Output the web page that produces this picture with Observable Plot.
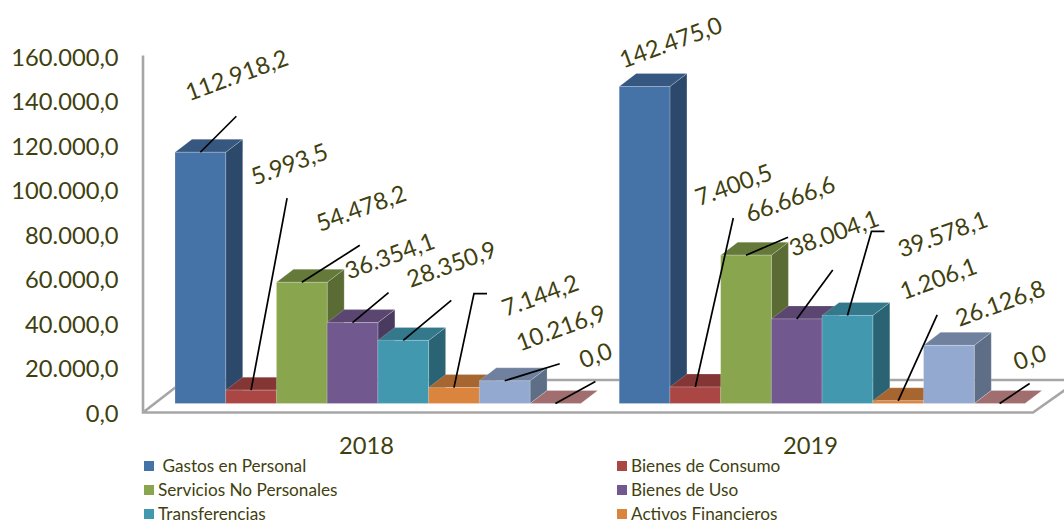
<!DOCTYPE html>
<html><head><meta charset="utf-8">
<script src="https://cdn.jsdelivr.net/npm/d3@7"></script>
<script src="https://cdn.jsdelivr.net/npm/@observablehq/plot@0.6"></script>
<style>
html,body{margin:0;padding:0;background:#fff;overflow:hidden}
#legend{position:absolute;left:144px;top:458.5px;display:grid;grid-template-columns:473px 300px;grid-auto-rows:14px;row-gap:10.2px;font:17.2px/14px Lato,sans-serif;color:#3f3f10}
#legend div{display:flex;align-items:center;white-space:pre;height:14px}
#legend i{display:inline-block;width:10px;height:10px;margin-right:4px}
</style></head><body>
<div id="chart"></div><div id="legend"></div>
<script>
const years = ["2018", "2019"];
const series = ["Gastos en Personal", "Bienes de Consumo", "Servicios No Personales", "Bienes de Uso", "Transferencias", "Activos Financieros", "Bienes Preexistentes", "Otros"];
const legendSeries = series.slice(0, 6);
const values2018 = [112918.2, 5993.5, 54478.2, 36354.1, 28350.9, 7144.2, 10216.9, 0];
const values2019 = [142475.0, 7400.5, 66666.6, 38004.1, 39578.1, 1206.1, 26126.8, 0];
const yTicks = [0, 20000, 40000, 60000, 80000, 100000, 120000, 140000, 160000];

const frontColors = ["#4573a7", "#aa4644", "#89a54e", "#71588f", "#4198af", "#db843d", "#93a9cf", "#d19392"];
const topColors = ["#36577f", "#843635", "#657a3a", "#5a4671", "#33788b", "#a7652f", "#6f819e", "#a06e6e"];
const sideColors = ["#2c486b", "#6f2d2c", "#5a6c33", "#4b3a60", "#2a6373", "#8f5628", "#5e6e87", "#8a5c5c"];

// manual data-label layout: pixel offsets from the top centre of each bar
const labelOffsets2018 = [[36, -77], [38, -226], [59, -74], [37, -66.5], [48, -76], [86, -92], [56, -53], [40, -48]];
const labelOffsets2019 = [[26, -44], [38, -202], [44, -56], [37, -85.5], [95, -81], [40, -122], [51, -42], [30, -46]];
const leaders2018 = [[[36, -36]], [[36, -192]], [[58, -37]], [[36, -30]], [[48, -40]], [[20, -94], [33, -94]], [[55, -17]], [[40, -22]]];
const leaders2019 = [null, [[38, -169]], [[42, -18]], [[36, -49]], [[24, -84], [37, -84]], [[39, -86]], null, [[30, -20]]];

const rows = years.flatMap((year, yi) => series.map((name, i) => ({
  year, name, i,
  value: (yi ? values2019 : values2018)[i],
  label: (yi ? labelOffsets2019 : labelOffsets2018)[i],
  leader: (yi ? leaders2019 : leaders2018)[i]
})));

const fmt = d3.formatLocale({decimal: ",", thousands: ".", grouping: [3], currency: ["", ""]}).format(",.1f");
const depthX = 17, depthY = 13;
const W = 1064, H = 458, mL = 175, mR = 39, mT = 47.5, mB = 54.5;
const SVGNS = "http://www.w3.org/2000/svg";
const textColor = "#3f3f10";

function poly(g, pts, fill, before) {
  const p = document.createElementNS(SVGNS, "polygon");
  p.setAttribute("points", pts.map(q => q.join(",")).join(" "));
  p.setAttribute("fill", fill);
  g.insertBefore(p, before);
}
function extruded(i) {
  return function (index, scales, values, dims, ctx, next) {
    const g = next(index, scales, values, dims, ctx);
    g.querySelectorAll("rect").forEach(r => {
      const x = +r.getAttribute("x"), y = +r.getAttribute("y"), w = +r.getAttribute("width"), h = +r.getAttribute("height");
      if (h > 0.5) poly(g, [[x + w, y], [x + w + depthX, y - depthY], [x + w + depthX, y + h - depthY], [x + w, y + h]], sideColors[i], r);
      poly(g, [[x, y], [x + w, y], [x + w + depthX, y - depthY], [x + depthX, y - depthY]], topColors[i], r);
    });
    return g;
  };
}
function frameRender(index, scales, values) {
  const g = document.createElementNS(SVGNS, "g");
  const base = values.y[index[0]];
  const front = base + 9, back = base - 23.5;
  const left = mL - 32, right = W - mR + 8;
  const d = [
    `M${left},${base - 348}L${left},${front}L${right},${front}L${right + 34},${front - 24}`,
    `M${left},${front}L${left + 42},${back}L${W},${back}`
  ].join("");
  const p = document.createElementNS(SVGNS, "path");
  p.setAttribute("d", d);
  p.setAttribute("fill", "none");
  p.setAttribute("stroke", "#a6a6a6");
  p.setAttribute("stroke-width", 2.6);
  g.appendChild(p);
  return g;
}
function leaderRender(index, scales, values) {
  const g = document.createElementNS(SVGNS, "g");
  const half = scales.x.bandwidth() / 2;
  for (const k of index) {
    const r = rows[k];
    if (!r.leader) continue;
    const cx = values.x[k] + half, cy = values.y[k];
    const p = document.createElementNS(SVGNS, "path");
    p.setAttribute("d", `M${cx},${cy}` + r.leader.map(([a, b]) => `L${cx + a},${cy + b}`).join(""));
    p.setAttribute("fill", "none");
    p.setAttribute("stroke", "#000");
    p.setAttribute("stroke-width", 1.7);
    g.appendChild(p);
  }
  return g;
}

const plot = Plot.plot({
  width: W, height: H,
  marginLeft: mL, marginRight: mR, marginTop: mT, marginBottom: mB,
  style: {fontFamily: "Lato, sans-serif", color: textColor, background: "transparent"},
  x: {domain: series, padding: 0, round: false, axis: null, label: null},
  fx: {domain: years, paddingInner: 0.0865, paddingOuter: 0, round: false, label: null},
  y: {domain: [0, 160000], label: null},
  color: {domain: series, range: frontColors},
  marks: [
    Plot.dot([{year: "2018", v: 0}], {fx: "year", y: "v", r: 0, render: frameRender}),
    ...series.map((name, i) => Plot.barY(rows.filter(r => r.i === i), {
      x: "name", fx: "year", y1: 0, y2: "value", fill: frontColors[i], stroke: "#fff", strokeOpacity: 0.2, render: extruded(i)
    })),
    Plot.dot(rows, {x: "name", fx: "year", y: "value", r: 0, render: leaderRender}),
    ...rows.map(r => Plot.text([r], {
      x: "name", fx: "year", y: "value", text: d => fmt(d.value),
      dx: r.label[0], dy: r.label[1], rotate: -20, fontSize: 23.7, fill: textColor, lineAnchor: "middle"
    })),
    Plot.axisY({ticks: yTicks, tickFormat: fmt, tickSize: 0, tickPadding: 57, dy: 10.2, fontSize: 23.7, label: null}),
    Plot.axisFx({anchor: "bottom", tickSize: 0, tickPadding: 33.5, dx: -12, fontSize: 23.7, label: null})
  ]
});
document.getElementById("chart").appendChild(plot);

const legend = document.getElementById("legend");
legendSeries.forEach((name, i) => {
  const el = document.createElement("div");
  const sw = document.createElement("i");
  sw.style.background = frontColors[i];
  el.appendChild(sw);
  el.appendChild(document.createTextNode(i === 0 ? " " + name : name));
  legend.appendChild(el);
});
</script></body></html>
